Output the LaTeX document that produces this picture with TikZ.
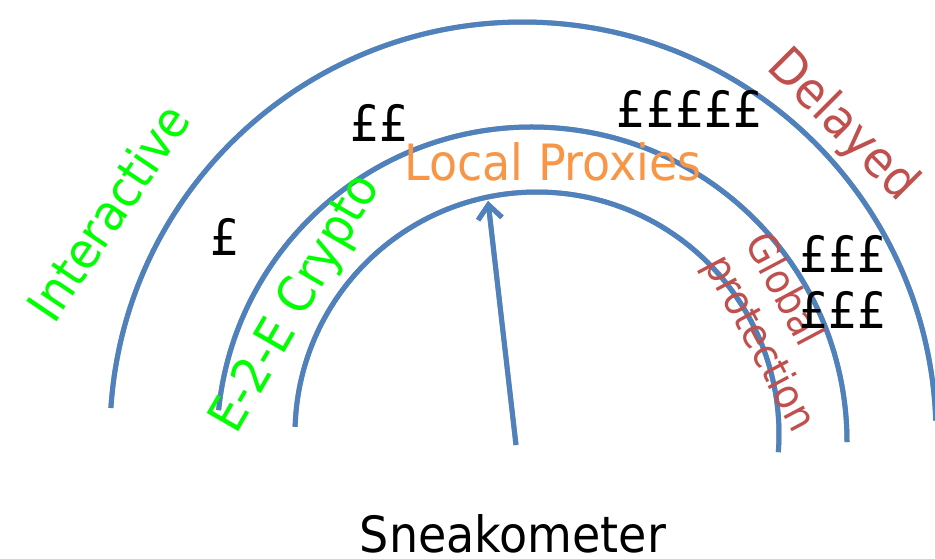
\documentclass[tikz,border=0pt]{standalone}
\usepackage{fontspec}
\setmainfont{DejaVu Sans}[FakeStretch=0.92]
\usetikzlibrary{arrows.meta}
\definecolor{arcblue}{HTML}{4F81BD}
\definecolor{shadowgray}{HTML}{9A9A9A}
\definecolor{labgreen}{HTML}{00FF00}
\definecolor{labred}{HTML}{C0504D}
\definecolor{laborange}{HTML}{F79646}
\begin{document}
\begin{tikzpicture}[x=1pt,y=-1pt,
  ring/.style={line width=5pt, draw=arcblue},
  ringshadow/.style={line width=5pt, draw=shadowgray, shift={(1.5,2.5)}},
  big/.style={font=\fontsize{50}{58}\selectfont, inner sep=0pt},
  small/.style={font=\fontsize{41}{46}\selectfont, inner sep=0pt},
  pound/.style={big, text=black},
  tip/.style={-{Straight Barb[length=14pt,width=24pt]}}
]
\useasboundingbox (0,0) rectangle (935,558);
\clip (0,0) rectangle (935,558);
\coordinate (co) at (523,435);
\coordinate (cm) at (532,442);
\coordinate (ci) at (537,434);
\coordinate (foot) at (516,445);
\coordinate (head) at (488,201);
% shadows
\draw[ringshadow] (co) ++(176.25:413pt) arc[start angle=176.25, end angle=2, radius=413pt];
\draw[ringshadow] (cm) ++(174.2:315pt) arc[start angle=174.2, end angle=0, radius=315pt];
\draw[ringshadow] (ci) ++(178.3:242pt) arc[start angle=178.3, end angle=-4.3, radius=242pt];
\draw[ringshadow, tip] (foot) -- (head);
% rings
\draw[ring] (co) ++(176.25:413pt) arc[start angle=176.25, end angle=2, radius=413pt];
\draw[ring] (cm) ++(174.2:315pt) arc[start angle=174.2, end angle=0, radius=315pt];
\draw[ring] (ci) ++(178.3:242pt) arc[start angle=178.3, end angle=-4.3, radius=242pt];
\draw[ring, tip] (foot) -- (head);
% labels
\node[big, text=labgreen, rotate=56] (interactive) at (108,212) {Interactive};
\node[big, text=labgreen, rotate=60] (e2e) at (297,304) {E-2-E Crypto};
\node[big, text=laborange, anchor=base] (proxies) at (553,180) {Local Proxies};
\node[big, text=labred, rotate=-45] (delayed) at (842,126) {Delayed};
\node[small, text=labred, rotate=-62, align=left] (global) at (779,333) {Global\\protection};
\node[big, anchor=base] (sneak) at (513,552) {Sneakometer};
\node[pound] (p1) at (225,237) {£};
\node[pound] (p2) at (380,123) {££};
\node[pound] (p5) at (690,109) {£££££};
\node[pound] (p3a) at (843,254) {£££};
\node[pound] (p3b) at (843,310) {£££};
\end{tikzpicture}
\end{document}
